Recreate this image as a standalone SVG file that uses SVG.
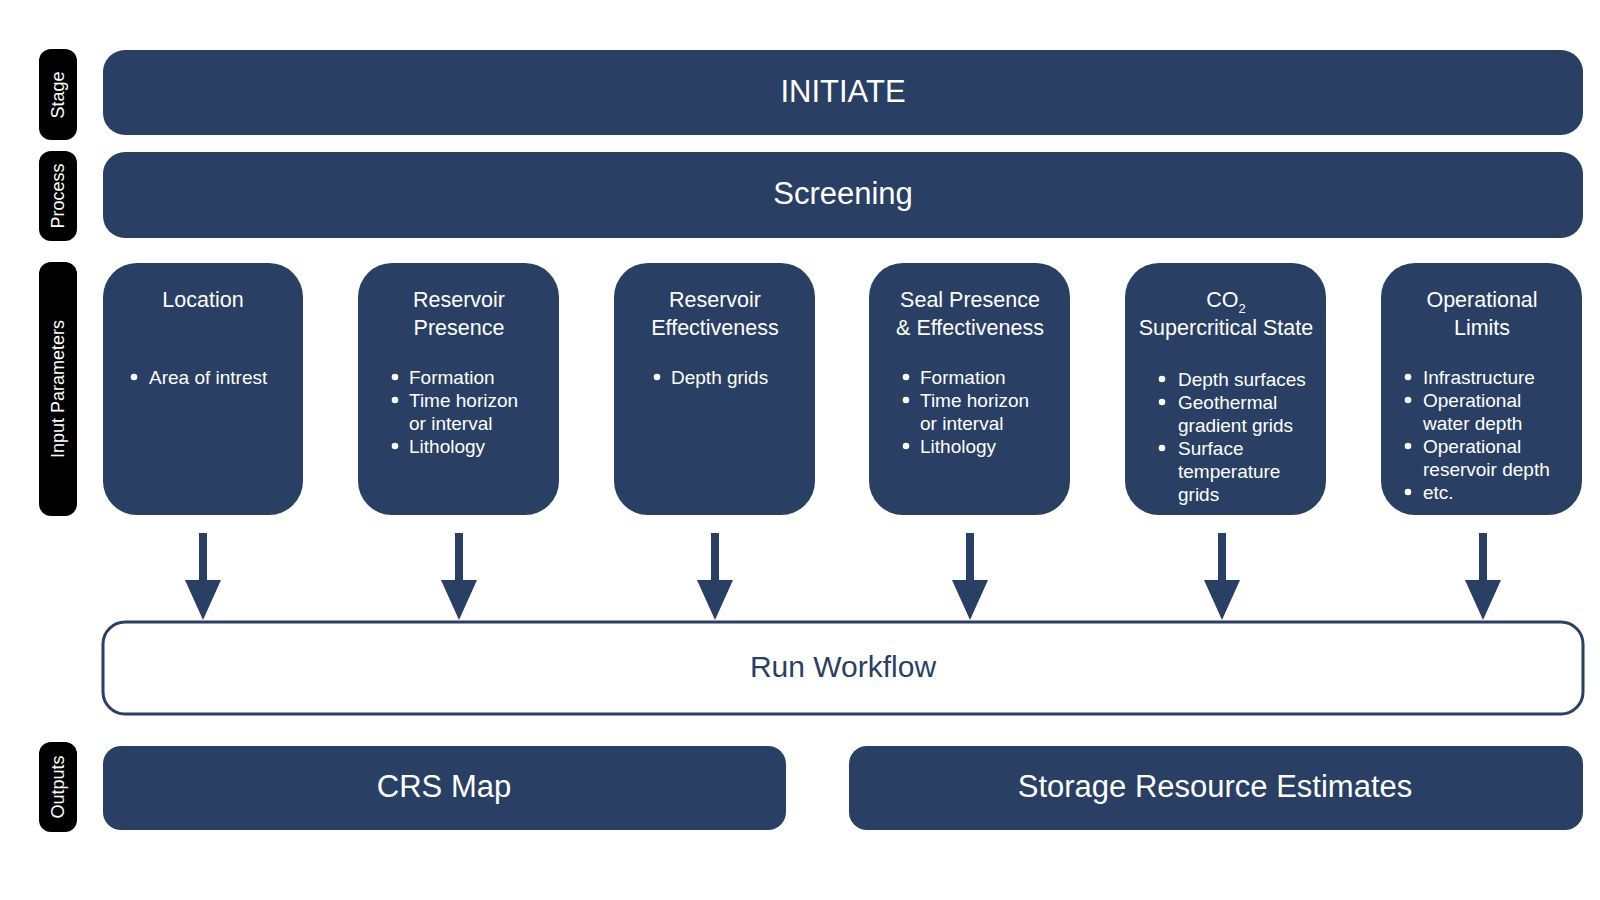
<svg xmlns="http://www.w3.org/2000/svg" width="1600" height="900" viewBox="0 0 1600 900">
<style>
.lab{fill:#000}
.bar{fill:#293f63}
.vt{fill:#fff;font-family:"Liberation Sans",Arial,sans-serif;font-size:18px;text-anchor:middle}
.big{fill:#fff;font-family:"Liberation Sans",Arial,sans-serif;font-size:31px;text-anchor:middle}
.t{fill:#fff;font-family:"Liberation Sans",Arial,sans-serif;font-size:21.5px;text-anchor:middle}
.b{fill:#fff;font-family:"Liberation Sans",Arial,sans-serif;font-size:19px}
.arr{stroke:#293f63;stroke-width:8;fill:none}
</style>
<defs>
<marker id="ah" markerWidth="5" markerHeight="4.5" refX="0" refY="2.25" orient="auto" markerUnits="strokeWidth"><path d="M0,0 L5,2.25 L0,4.5 z" fill="#293f63"/></marker>
</defs>
<rect width="1600" height="900" fill="#fff"/>
<g id="labels">
<rect class="lab" x="39" y="49" width="38" height="91" rx="12"/>
<text class="vt" transform="translate(64,95) rotate(-90)">Stage</text>
<rect class="lab" x="39" y="151" width="38" height="90" rx="12"/>
<text class="vt" transform="translate(64,196) rotate(-90)">Process</text>
<rect class="lab" x="39" y="262" width="38" height="254" rx="12"/>
<text class="vt" transform="translate(64,389) rotate(-90)">Input Parameters</text>
<rect class="lab" x="39" y="742" width="38" height="90" rx="12"/>
<text class="vt" transform="translate(64,787) rotate(-90)">Outputs</text>
</g>
<g id="initiate"><rect class="bar" x="103" y="50" width="1480" height="85" rx="22"/><text class="big" x="843" y="102">INITIATE</text></g>
<g id="screening"><rect class="bar" x="103" y="152" width="1480" height="86" rx="22"/><text class="big" x="843" y="204">Screening</text></g>
<g id="location"><rect class="bar" x="103" y="263" width="200" height="252" rx="34"/>
<text class="t" x="203" y="307">Location</text>
<text class="b" x="149" y="384">Area of intrest</text><circle cx="134" cy="377" r="3.3" fill="#fff"/></g>
<g id="respres"><rect class="bar" x="358" y="263" width="201" height="252" rx="34"/>
<text class="t" x="459" y="307">Reservoir</text><text class="t" x="459" y="335">Presence</text>
<text class="b" x="409" y="384">Formation</text><text class="b" x="409" y="407">Time horizon</text><text class="b" x="409" y="430">or interval</text><text class="b" x="409" y="453">Lithology</text>
<circle cx="395" cy="377" r="3.3" fill="#fff"/><circle cx="395" cy="400" r="3.3" fill="#fff"/><circle cx="395" cy="446" r="3.3" fill="#fff"/></g>
<g id="reseff"><rect class="bar" x="614" y="263" width="201" height="252" rx="34"/>
<text class="t" x="715" y="307">Reservoir</text><text class="t" x="715" y="335">Effectiveness</text>
<text class="b" x="671" y="384">Depth grids</text><circle cx="657" cy="377" r="3.3" fill="#fff"/></g>
<g id="seal"><rect class="bar" x="869" y="263" width="201" height="252" rx="34"/>
<text class="t" x="970" y="307">Seal Presence</text><text class="t" x="970" y="335">&amp; Effectiveness</text>
<text class="b" x="920" y="384">Formation</text><text class="b" x="920" y="407">Time horizon</text><text class="b" x="920" y="430">or interval</text><text class="b" x="920" y="453">Lithology</text>
<circle cx="906" cy="377" r="3.3" fill="#fff"/><circle cx="906" cy="400" r="3.3" fill="#fff"/><circle cx="906" cy="446" r="3.3" fill="#fff"/></g>
<g id="co2"><rect class="bar" x="1125" y="263" width="201" height="252" rx="34"/>
<text class="t" x="1226" y="307">CO<tspan font-size="13" dy="6">2</tspan></text><text class="t" x="1226" y="335">Supercritical State</text>
<text class="b" x="1178" y="386">Depth surfaces</text><text class="b" x="1178" y="409">Geothermal</text><text class="b" x="1178" y="432">gradient grids</text><text class="b" x="1178" y="455">Surface</text><text class="b" x="1178" y="478">temperature</text><text class="b" x="1178" y="501">grids</text>
<circle cx="1162" cy="379" r="3.3" fill="#fff"/><circle cx="1162" cy="402" r="3.3" fill="#fff"/><circle cx="1162" cy="448" r="3.3" fill="#fff"/></g>
<g id="oplimits"><rect class="bar" x="1381" y="263" width="201" height="252" rx="34"/>
<text class="t" x="1482" y="307">Operational</text><text class="t" x="1482" y="335">Limits</text>
<text class="b" x="1423" y="384">Infrastructure</text><text class="b" x="1423" y="407">Operational</text><text class="b" x="1423" y="430">water depth</text><text class="b" x="1423" y="453">Operational</text><text class="b" x="1423" y="476">reservoir depth</text><text class="b" x="1423" y="499">etc.</text>
<circle cx="1408" cy="377" r="3.3" fill="#fff"/><circle cx="1408" cy="400" r="3.3" fill="#fff"/><circle cx="1408" cy="446" r="3.3" fill="#fff"/><circle cx="1408" cy="492" r="3.3" fill="#fff"/></g>
<g id="connectors">
<path class="arr" d="M203,533 V580" marker-end="url(#ah)"/>
<path class="arr" d="M459,533 V580" marker-end="url(#ah)"/>
<path class="arr" d="M715,533 V580" marker-end="url(#ah)"/>
<path class="arr" d="M970,533 V580" marker-end="url(#ah)"/>
<path class="arr" d="M1222,533 V580" marker-end="url(#ah)"/>
<path class="arr" d="M1483,533 V580" marker-end="url(#ah)"/>
</g>
<g id="runworkflow"><rect x="103" y="622" width="1480" height="92" rx="22" fill="#fff" stroke="#293f63" stroke-width="3"/><text x="843" y="677" font-family="Liberation Sans, Arial, sans-serif" font-size="30" fill="#293f63" text-anchor="middle">Run Workflow</text></g>
<g id="crsmap"><rect class="bar" x="103" y="746" width="683" height="84" rx="18"/><text class="big" x="444" y="797">CRS Map</text></g>
<g id="storage"><rect class="bar" x="849" y="746" width="734" height="84" rx="18"/><text class="big" x="1215" y="797">Storage Resource Estimates</text></g>
</svg>
